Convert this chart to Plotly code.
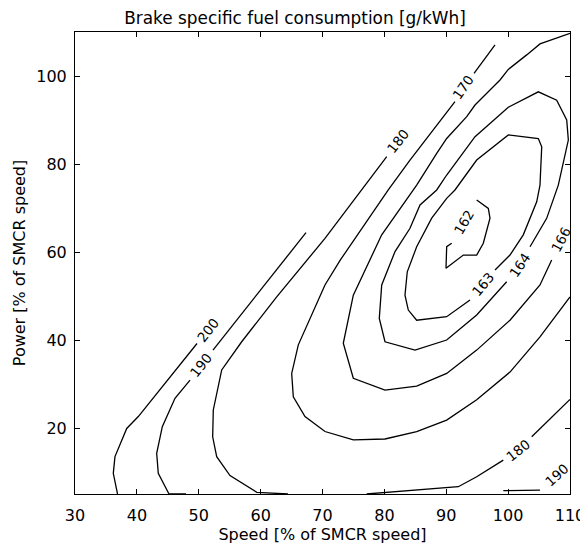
import plotly.graph_objects as go

# ---- contour lines (x = speed %, y = power %) ----
# None separates pieces that are interrupted by an inline label
c200_x = [36.87, 36.19, 36.46, 38.36, 40.23, 49.72]
c200_y = [5.0, 9.7, 13.5, 19.9, 22.6, 39.2]

c190a_x = [47.94, 45.19, 43.46, 43.20, 44.11, 46.16, 48.59, None, 52.30, 67.33]
c190a_y = [5.0, 5.0, 9.7, 14.25, 20.3, 26.75, 30.9, None, 37.7, 64.4]

c180a_x = [64.42, 59.37, 55.05, 52.90, 52.25, 52.35, 53.71, 56.94, 62.60, 70.40, 80.38]
c180a_y = [5.0, 5.39, 9.2, 13.48, 18.0, 24.1, 33.2, 39.6, 49.8, 63.1, 81.66]

c170_x = [97.88, 94.49, None, 91.41, 84.14, 80.63, 72.89, 70.40, 66.09, 65.02, 65.28,
          67.17, 70.40, 74.98, 80.10, 85.22, 90.07, 94.92, 100.30, 105.15, 110.0]
c170_y = [107.05, 100.6, None, 94.16, 80.9, 74.1, 58.2, 52.5, 38.9, 32.4, 27.1,
          22.6, 19.2, 17.3, 17.5, 19.2, 21.8, 26.4, 32.7, 40.7, 49.8]

c166_x = [110.0, 105.15, 103.0, 100.03, 98.69, 94.65, 93.31, 90.07, 88.46, 85.22, 79.57,
          74.98, 73.36, 74.98, 80.10, 85.22, 90.07, 94.92, 100.30, 105.15, 107.04]
c166_y = [109.7, 107.3, 104.8, 101.5, 99.1, 93.4, 90.75, 85.8, 82.4, 75.2, 63.9,
          50.2, 39.25, 31.3, 28.6, 29.5, 32.4, 37.7, 44.5, 52.5, 58.2]

c164_x = [103.54, 106.23, 108.11, 109.73, 109.47, 107.85, 104.88, 100.03, 94.65, 90.07,
          88.46, 85.76, 84.14, 81.72, 79.57, 79.18, 80.10, 84.95, 90.07, 93.31, 94.92, 99.77]
c164_y = [61.2, 67.65, 75.2, 85.45, 90.0, 94.5, 96.4, 92.9, 86.2, 77.5,
          74.1, 70.7, 65.4, 60.1, 52.5, 44.9, 39.6, 37.7, 40.0, 43.8, 45.7, 53.25]

c163_x = [97.88, 100.30, 102.45, 104.62, 105.15, 105.43, 104.88, 100.03, 94.92, 91.41, 90.07,
          87.65, 85.22, 83.70, 83.33, 83.87, 85.22, 90.07, 93.84]
c163_y = [55.9, 59.3, 63.9, 71.4, 75.2, 83.9, 85.8, 86.6, 80.9, 74.1, 72.2,
          67.7, 61.2, 55.5, 50.2, 46.8, 44.5, 45.3, 49.1]

c162_x = [94.92, 96.80, 97.07, 95.99, 94.92, 92.76, 89.96, 90.07, 90.88]
c162_y = [71.8, 69.9, 67.7, 62.0, 59.3, 59.3, 56.3, 61.2, 62.0]

c180b_x = [77.14, 91.95, 94.92, 99.22, None, 103.81, 110.0]
c180b_y = [5.0, 6.66, 8.93, 12.7, None, 18.0, 26.5]

c190b_x = [99.22, 105.15]
c190b_y = [5.75, 5.9]

# inline contour labels
label_text = ["200", "190", "180", "170", "166", "164", "163", "162", "180", "190"]
label_x = [51.5, 50.36, 82.2, 92.71, 108.6, 101.9, 95.94, 92.87, 101.65, 107.85]
label_y = [42.3, 34.3, 85.2, 97.5, 62.9, 57.0, 52.7, 66.8, 15.0, 9.3]
label_angle = [-52, -52, -52, -55, -62, -56, -50, -60, -38, -42]

x_ticks = [30, 40, 50, 60, 70, 80, 90, 100, 110]
y_ticks = [20, 40, 60, 80, 100]

FONT = "DejaVu Sans"

fig = go.Figure()
lines = [(c200_x, c200_y), (c190a_x, c190a_y), (c180a_x, c180a_y), (c170_x, c170_y),
         (c166_x, c166_y), (c164_x, c164_y), (c163_x, c163_y), (c162_x, c162_y),
         (c180b_x, c180b_y), (c190b_x, c190b_y)]
for xs, ys in lines:
    fig.add_trace(go.Scatter(x=xs, y=ys, mode="lines", connectgaps=False,
                             line=dict(color="black", width=1.3),
                             hoverinfo="skip", showlegend=False, cliponaxis=False))

for t, x, y, a in zip(label_text, label_x, label_y, label_angle):
    fig.add_annotation(x=x, y=y, text=t, textangle=a, showarrow=False,
                       xanchor="center", yanchor="middle",
                       font=dict(family=FONT, size=13.5, color="black"))

axis_common = dict(showgrid=False, zeroline=False, showline=True, linecolor="black",
                   linewidth=1, mirror="ticks", ticks="inside", ticklen=5,
                   tickwidth=1, tickcolor="black", automargin=False,
                   tickfont=dict(family=FONT, size=16, color="black"))

fig.update_xaxes(range=[30, 110], tickvals=x_ticks, ticktext=[str(v) for v in x_ticks],
                 ticklabelstandoff=7,
                 title=dict(text="Speed [% of SMCR speed]", standoff=4,
                            font=dict(family=FONT, size=16, color="black")),
                 **axis_common)
fig.update_yaxes(range=[5, 110], tickvals=y_ticks, ticktext=[str(v) for v in y_ticks],
                 ticklabelstandoff=4,
                 title=dict(text="Power [% of SMCR speed]", standoff=6,
                            font=dict(family=FONT, size=16, color="black")),
                 **axis_common)

# the page shows the figure with an 8px body margin, so the figure is 8px smaller
fig.update_layout(
    width=580, height=538,
    margin=dict(l=67, r=18, t=24, b=52, autoexpand=False),
    plot_bgcolor="white", paper_bgcolor="white",
    title=dict(text="Brake specific fuel consumption [g/kWh]", x=287 / 580, xref="container",
               xanchor="center", y=1 - 10 / 538, yref="container", yanchor="middle",
               font=dict(family=FONT, size=16.9, color="black")),
)

fig.write_html("out.html")
